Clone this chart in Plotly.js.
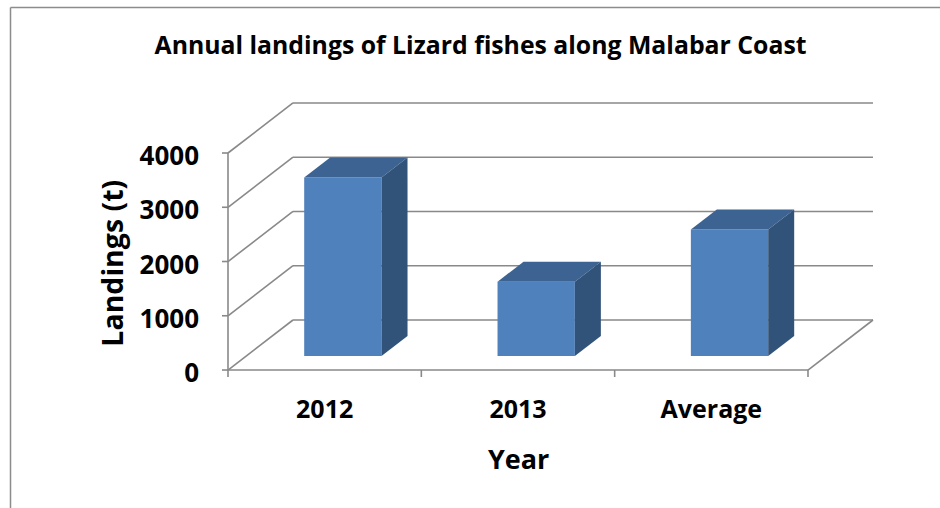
<!DOCTYPE html>
<html><head><meta charset="utf-8">
<script src="https://cdn.plot.ly/plotly-3.0.1.min.js"></script>
<style>html,body{margin:0;padding:0;background:#fff}#chart{width:940px;height:508px}</style>
</head><body><div id="chart"></div>
<script>
// ---- data ----
const categories = ['2012', '2013', 'Average'];
const landings = [3290, 1370, 2330];
const yTickValues = [0, 1000, 2000, 3000, 4000];
const yTickLabels = ['0', '1000', '2000', '3000', '4000'];
const chartTitle = 'Annual landings of Lizard fishes along Malabar Coast';
const xTitle = 'Year';
const yTitle = 'Landings (t)';

// ---- layout / projection settings ----
const W = 940, H = 508;
const M = {l: 218, r: 55, t: 93, b: 128};
const X_RANGE = [-0.5517, 2.8983];
const Y_RANGE = [-184, 5106];
const DEPTH_X = 0.3362, DEPTH_Y = 922;     // oblique offset front -> back wall
const BAR_FRONT = 0.28, BAR_BACK = 0.68, BAR_W = 0.4;
const GRID = '#898989';
const FONT = '"Open Sans", sans-serif';

const n = categories.length;
const xLeft = -0.5, xRight = n - 0.5;
const yMax = yTickValues[yTickValues.length - 1];
const pxPerX = (W - M.l - M.r) / (X_RANGE[1] - X_RANGE[0]);
const pxPerY = (H - M.t - M.b) / (Y_RANGE[1] - Y_RANGE[0]);

const shapes = [];
function seg(x0, y0, x1, y1) {
  shapes.push({type: 'line', xref: 'x', yref: 'y', x0, y0, x1, y1, layer: 'below',
    line: {color: GRID, width: 1.6}});
}
// back wall and side wall gridlines
yTickValues.forEach(v => {
  seg(xLeft + DEPTH_X, v + DEPTH_Y, xRight + DEPTH_X, v + DEPTH_Y);
  seg(xLeft, v, xLeft + DEPTH_X, v + DEPTH_Y);
  seg(xLeft - 6 / pxPerX, v, xLeft, v);          // y tick marks
});
// front value axis
seg(xLeft, 0, xLeft, yMax);
// floor front edge + right edge
seg(xLeft, 0, xRight, 0);
seg(xRight, 0, xRight + DEPTH_X, DEPTH_Y);
// category boundary ticks
for (let i = 0; i <= n; i++) seg(xLeft + i, 0, xLeft + i, -7 / pxPerY);

// frame border (paper coords)
const pxX = p => (p - M.l) / (W - M.l - M.r);
const pxY = p => (H - M.b - p) / (H - M.t - M.b);
shapes.push({type: 'line', xref: 'paper', yref: 'paper', x0: pxX(10.5), y0: pxY(7.5), x1: pxX(960), y1: pxY(7.5), line: {color: '#8c8c8c', width: 1.5}});
shapes.push({type: 'line', xref: 'paper', yref: 'paper', x0: pxX(10.5), y0: pxY(7.5), x1: pxX(10.5), y1: pxY(530), line: {color: '#8c8c8c', width: 1.5}});

// ---- traces ----
const idx = categories.map((c, i) => i);
const fx = BAR_FRONT * DEPTH_X, fy = BAR_FRONT * DEPTH_Y;
const dx = (BAR_BACK - BAR_FRONT) * DEPTH_X, dy = (BAR_BACK - BAR_FRONT) * DEPTH_Y;

const traces = [{
  type: 'bar', x: idx.map(i => i + fx), y: landings, base: landings.map(() => fy),
  width: BAR_W, marker: {color: '#4F81BD', line: {width: 0}},
  hoverinfo: 'skip', showlegend: false
}];
landings.forEach((v, i) => {
  const x0 = i - BAR_W / 2 + fx, x1 = i + BAR_W / 2 + fx;
  traces.push({type: 'scatter', mode: 'lines', fill: 'toself', fillcolor: '#3C6391',
    line: {width: 0, color: '#3C6391'}, hoverinfo: 'skip', showlegend: false,
    x: [x0, x1, x1 + dx, x0 + dx, x0], y: [v + fy, v + fy, v + fy + dy, v + fy + dy, v + fy]});
  traces.push({type: 'scatter', mode: 'lines', fill: 'toself', fillcolor: '#325379',
    line: {width: 0, color: '#325379'}, hoverinfo: 'skip', showlegend: false,
    x: [x1, x1, x1 + dx, x1 + dx, x1], y: [fy, v + fy, v + fy + dy, fy + dy, fy]});
});

const titleFont = {family: FONT, size: 27, weight: 'bold', color: '#000'};
const layout = {
  width: W, height: H, margin: M, paper_bgcolor: '#fff', plot_bgcolor: 'rgba(0,0,0,0)',
  showlegend: false, font: {family: FONT, color: '#000'},
  title: {text: chartTitle, xref: 'container', yref: 'container', x: 480.5 / W, xanchor: 'center',
    y: 1 - 45 / H, yanchor: 'middle', font: {family: FONT, size: 24.8, weight: 'bold', color: '#000'}},
  xaxis: {range: X_RANGE, tickvals: idx, ticktext: categories, ticks: '', showgrid: false,
    zeroline: false, showline: false, fixedrange: true, ticklabelstandoff: 12,
    tickfont: {family: FONT, size: 25, weight: 'bold', color: '#000'}},
  yaxis: {range: Y_RANGE, tickvals: yTickValues, ticktext: yTickLabels, ticks: '', showgrid: false,
    zeroline: false, showline: false, fixedrange: true, ticklabelstandoff: 18, ticklabelshift: 3,
    tickfont: {family: FONT, size: 26, weight: 'bold', color: '#000'}},
  annotations: [
    {text: xTitle, xref: 'x', yref: 'paper', x: (xLeft + xRight) / 2, y: pxY(458),
      xanchor: 'center', yanchor: 'middle', showarrow: false, font: titleFont},
    {text: yTitle, xref: 'paper', yref: 'y', x: pxX(112), y: yMax / 2 - 40, textangle: -90,
      xanchor: 'center', yanchor: 'middle', showarrow: false, font: {...titleFont, size: 28.5}}
  ],
  shapes: shapes
};
Plotly.newPlot('chart', traces, layout, {staticPlot: true, displayModeBar: false});
</script></body></html>
